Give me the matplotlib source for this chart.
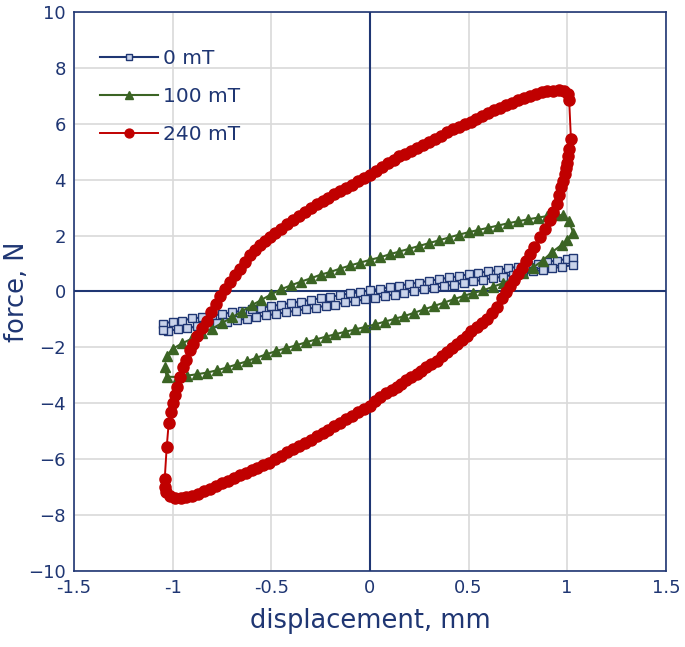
import matplotlib.pyplot as plt

# 0 mT (rama superior izquierda->derecha, rama inferior derecha->izquierda)
b_up_x = [-1.05, -1.0, -0.95, -0.9, -0.85, -0.8, -0.75, -0.7, -0.65, -0.6, -0.55, -0.5, -0.45, -0.4,
          -0.35, -0.3, -0.25, -0.2, -0.15, -0.1, -0.05, 0.0, 0.05, 0.1, 0.15, 0.2, 0.25, 0.3, 0.35,
          0.4, 0.45, 0.5, 0.55, 0.6, 0.65, 0.7, 0.75, 0.8, 0.85, 0.9, 0.95, 1.0, 1.03]
b_up_y = [-1.15, -1.08, -1.04, -0.96, -0.93, -0.85, -0.82, -0.74, -0.70, -0.62, -0.59, -0.51, -0.48, -0.40,
          -0.37, -0.29, -0.25, -0.18, -0.14, -0.06, -0.03, 0.05, 0.09, 0.16, 0.20, 0.28, 0.31, 0.39, 0.43,
          0.50, 0.54, 0.62, 0.65, 0.73, 0.76, 0.84, 0.88, 0.95, 0.99, 1.07, 1.10, 1.17, 1.20]
b_lo_x = [1.03, 0.975, 0.925, 0.875, 0.825, 0.775, 0.725, 0.675, 0.625, 0.575, 0.525, 0.475, 0.425,
          0.375, 0.325, 0.275, 0.225, 0.175, 0.125, 0.075, 0.025, -0.025, -0.075, -0.125, -0.175,
          -0.225, -0.275, -0.325, -0.375, -0.425, -0.475, -0.525, -0.575, -0.625, -0.675, -0.725,
          -0.775, -0.825, -0.875, -0.925, -0.975, -1.025, -1.05]
b_lo_y = [0.95, 0.88, 0.84, 0.76, 0.72, 0.65, 0.60, 0.53, 0.48, 0.42, 0.36, 0.31, 0.24, 0.19, 0.12, 0.08,
          0.01, -0.05, -0.11, -0.16, -0.23, -0.28, -0.35, -0.39, -0.47, -0.51, -0.58, -0.63, -0.69,
          -0.74, -0.81, -0.85, -0.92, -0.97, -1.03, -1.09, -1.14, -1.20, -1.25, -1.31, -1.36, -1.40, -1.38]

# 100 mT
g_up_x = [-1.03, -1.0, -0.95, -0.9, -0.85, -0.8, -0.75, -0.7, -0.65, -0.6, -0.55, -0.5, -0.45, -0.4,
          -0.35, -0.3, -0.25, -0.2, -0.15, -0.1, -0.05, 0.0, 0.05, 0.1, 0.15, 0.2, 0.25, 0.3, 0.35,
          0.4, 0.45, 0.5, 0.55, 0.6, 0.65, 0.7, 0.75, 0.8, 0.85, 0.9, 0.95, 0.98, 1.01]
g_up_y = [-2.3, -2.05, -1.85, -1.68, -1.5, -1.33, -1.13, -0.93, -0.72, -0.5, -0.3, -0.1, 0.08, 0.22,
          0.35, 0.47, 0.6, 0.7, 0.82, 0.93, 1.03, 1.13, 1.22, 1.33, 1.43, 1.53, 1.63, 1.73, 1.83,
          1.93, 2.03, 2.12, 2.2, 2.28, 2.36, 2.44, 2.51, 2.58, 2.64, 2.7, 2.74, 2.72, 2.52]
g_lo_x = [1.03, 1.0, 0.975, 0.925, 0.875, 0.825, 0.775, 0.725, 0.675, 0.625, 0.575, 0.525, 0.475, 0.425,
          0.375, 0.325, 0.275, 0.225, 0.175, 0.125, 0.075, 0.025, -0.025, -0.075, -0.125, -0.175,
          -0.225, -0.275, -0.325, -0.375, -0.425, -0.475, -0.525, -0.575, -0.625, -0.675, -0.725,
          -0.775, -0.825, -0.875, -0.925, -0.975, -1.03, -1.04]
g_lo_y = [2.1, 1.85, 1.68, 1.42, 1.1, 0.85, 0.65, 0.45, 0.3, 0.17, 0.04, -0.05, -0.16, -0.28, -0.4,
          -0.52, -0.64, -0.76, -0.88, -0.98, -1.08, -1.18, -1.27, -1.36, -1.44, -1.53, -1.62, -1.72,
          -1.82, -1.93, -2.03, -2.13, -2.25, -2.37, -2.5, -2.61, -2.72, -2.82, -2.9, -2.96, -3.01,
          -3.06, -3.05, -2.7]

# 240 mT
r_up_x = [-1.04, -1.03, -1.02, -1.01, -1.0, -0.99, -0.98, -0.965, -0.946, -0.93, -0.91, -0.895, -0.875,
          -0.85, -0.828, -0.805, -0.78, -0.76, -0.735, -0.71, -0.685, -0.66, -0.635, -0.608, -0.58,
          -0.555, -0.53, -0.507, -0.48, -0.45, -0.42, -0.389, -0.36, -0.33, -0.3, -0.27, -0.24, -0.21,
          -0.18, -0.15, -0.12, -0.09, -0.06, -0.03, 0.0, 0.03, 0.06, 0.09, 0.12, 0.15, 0.18, 0.21, 0.24,
          0.27, 0.3, 0.33, 0.36, 0.39, 0.42, 0.45, 0.48, 0.51, 0.54, 0.57, 0.6, 0.63, 0.66, 0.69, 0.72,
          0.75, 0.78, 0.81, 0.84, 0.87, 0.9, 0.93, 0.96, 0.985, 1.005, 1.01]
r_up_y = [-6.7, -5.57, -4.72, -4.3, -4.0, -3.7, -3.42, -3.05, -2.71, -2.45, -2.1, -1.87, -1.6, -1.3,
          -1.04, -0.75, -0.45, -0.15, 0.1, 0.35, 0.6, 0.82, 1.05, 1.3, 1.48, 1.65, 1.8, 1.95, 2.1, 2.25,
          2.4, 2.55, 2.7, 2.85, 3.0, 3.14, 3.25, 3.36, 3.47, 3.58, 3.7, 3.82, 3.94, 4.05, 4.15, 4.3,
          4.45, 4.6, 4.72, 4.83, 4.93, 5.03, 5.13, 5.24, 5.36, 5.47, 5.58, 5.7, 5.8, 5.9, 5.98, 6.07,
          6.17, 6.28, 6.38, 6.48, 6.57, 6.66, 6.75, 6.84, 6.93, 7.0, 7.06, 7.12, 7.16, 7.19, 7.2, 7.18,
          7.07, 6.85]
r_lo_x = [1.019, 1.01, 1.005, 1.0, 0.995, 0.988, 0.98, 0.971, 0.96, 0.946, 0.93, 0.912, 0.89, 0.862,
          0.83, 0.81, 0.79, 0.77, 0.75, 0.73, 0.71, 0.69, 0.67, 0.645, 0.62, 0.595, 0.57, 0.541, 0.515,
          0.49, 0.465, 0.439, 0.415, 0.39, 0.365, 0.338, 0.31, 0.285, 0.26, 0.237, 0.21, 0.185, 0.16,
          0.135, 0.11, 0.08, 0.05, 0.025, 0.0, -0.03, -0.06, -0.09, -0.12, -0.15, -0.18, -0.21, -0.24,
          -0.27, -0.3, -0.33, -0.36, -0.39, -0.42, -0.45, -0.48, -0.51, -0.54, -0.57, -0.6, -0.63,
          -0.66, -0.69, -0.72, -0.75, -0.78, -0.81, -0.84, -0.87, -0.9, -0.93, -0.96, -0.99, -1.015,
          -1.035, -1.04]
r_lo_y = [5.46, 5.1, 4.85, 4.6, 4.4, 4.2, 3.95, 3.73, 3.45, 3.14, 2.85, 2.54, 2.25, 1.94, 1.6, 1.35,
          1.1, 0.85, 0.62, 0.4, 0.18, -0.02, -0.25, -0.55, -0.78, -0.98, -1.12, -1.28, -1.43, -1.58,
          -1.72, -1.87, -2.02, -2.17, -2.32, -2.47, -2.6, -2.72, -2.83, -2.94, -3.06, -3.18, -3.3,
          -3.42, -3.52, -3.63, -3.78, -3.92, -4.1, -4.22, -4.33, -4.45, -4.58, -4.7, -4.82, -4.95,
          -5.07, -5.18, -5.3, -5.42, -5.53, -5.63, -5.75, -5.88, -6.0, -6.12, -6.22, -6.3, -6.4,
          -6.48, -6.58, -6.68, -6.78, -6.87, -6.96, -7.06, -7.15, -7.23, -7.3, -7.36, -7.4, -7.38,
          -7.32, -7.18, -7.0]

navy = "#1F3673"
verde = "#3B6424"
rojo = "#C00000"

plt.rcParams['font.family'] = ['DejaVu Sans']
fig = plt.figure(figsize=(6.85, 6.47), dpi=100)
ax = fig.add_axes([0.108, 0.1175, 0.864, 0.864])

ax.plot(b_up_x + b_lo_x, b_up_y + b_lo_y, color=navy, lw=1.5, marker="s", ms=5.5,
        mfc="#C9D3EA", mec=navy, mew=1.0, label="0 mT", zorder=3)
ax.plot(g_up_x + g_lo_x, g_up_y + g_lo_y, color=verde, lw=1.5, marker="^", ms=7,
        mfc=verde, mec=verde, label="100 mT", zorder=4)
ax.plot(r_up_x + r_lo_x, r_up_y + r_lo_y, color=rojo, lw=1.4, marker="o", ms=8,
        mfc=rojo, mec=rojo, label="240 mT", zorder=5)

ax.axhline(0, color=navy, lw=1.5, zorder=2)
ax.axvline(0, color=navy, lw=1.5, zorder=2)

ax.set_xlim(-1.5, 1.5)
ax.set_ylim(-10, 10)
ax.set_xticks([-1.5, -1, -0.5, 0, 0.5, 1, 1.5])
ax.set_xticklabels(["-1.5", "-1", "-0.5", "0", "0.5", "1", "1.5"])
ax.set_yticks(range(-10, 11, 2))
ax.grid(color="#D9D9D9", lw=1.2, zorder=0)
ax.set_axisbelow(True)
ax.tick_params(length=0, labelsize=13, labelcolor=navy, pad=6)
for s in ax.spines.values():
    s.set_color(navy)
    s.set_linewidth(1.2)

ax.set_xlabel("displacement, mm", fontsize=18.5, color=navy, labelpad=8)
ax.set_ylabel("force, N", fontsize=18.5, color=navy)
ax.yaxis.set_label_coords(-0.074, 0.5)

leg = ax.legend(loc="upper left", bbox_to_anchor=(0.03, 0.948), frameon=False, fontsize=14.5,
                labelcolor=navy, handlelength=2.9, handletextpad=0.25, labelspacing=0.95,
                borderaxespad=0, markerscale=0.8)

plt.savefig("out.png", dpi=100)
